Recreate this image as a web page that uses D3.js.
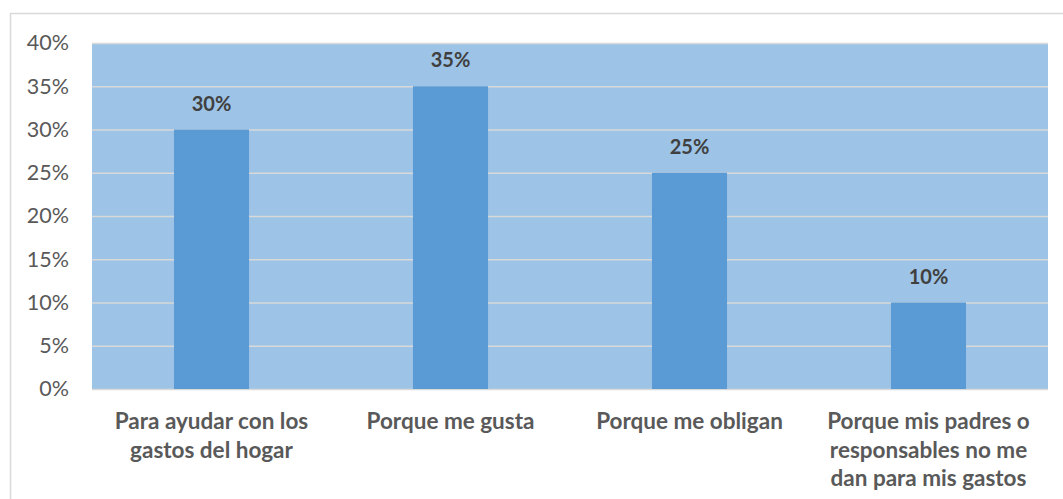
<!DOCTYPE html>
<html><head><meta charset="utf-8">
<script src="https://cdn.jsdelivr.net/npm/d3@7"></script>
<style>body{margin:0;background:#fff;}svg{display:block;}</style>
</head><body>
<svg id="chart" width="1063" height="499"></svg>
<script>
const categories = [
  ["Para ayudar con los", "gastos del hogar"],
  ["Porque me gusta"],
  ["Porque me obligan"],
  ["Porque mis padres o", "responsables no me", "dan para mis gastos"]
];
const values = [0.30, 0.35, 0.25, 0.10];
const yTicks = [0, 0.05, 0.10, 0.15, 0.20, 0.25, 0.30, 0.35, 0.40];

(function () {
const svg = d3.select("#chart");
const font = "Lato, 'Open Sans', sans-serif";
const pLeft = 92, pRight = 1048, pTop = 43, pBottom = 389;

svg.append("rect").attr("x", 10.5).attr("y", 13.5).attr("width", 1060).attr("height", 500)
  .attr("fill", "#fff").attr("stroke", "#d9d9d9").attr("stroke-width", 1.5);

const x = d3.scaleBand().domain(d3.range(categories.length)).range([pLeft, pRight]).paddingInner(0.686).paddingOuter(0.343);
const y = d3.scaleLinear().domain([0, 0.40]).range([pBottom, pTop]);

svg.append("rect").attr("x", pLeft).attr("y", pTop).attr("width", pRight - pLeft).attr("height", pBottom - pTop).attr("fill", "#9dc3e6");

const yAxis = d3.axisLeft(y).tickValues(yTicks).tickFormat(d3.format(".0%")).tickSize(-(pRight - pLeft)).tickPadding(23);
const ga = svg.append("g").attr("transform", `translate(${pLeft},0)`).call(yAxis);
ga.select(".domain").remove();
ga.selectAll(".tick line").attr("stroke", "#d9d9d9").attr("stroke-width", 1.5);
ga.selectAll(".tick text").attr("fill", "#595959").style("font-family", font).style("font-size", "21.5px");

svg.selectAll("rect.bar").data(values).enter().append("rect").attr("class", "bar")
  .attr("x", (d, i) => x(i)).attr("width", x.bandwidth())
  .attr("y", d => y(d)).attr("height", d => y(0) - y(d)).attr("fill", "#5b9bd5");

svg.selectAll("text.lbl").data(values).enter().append("text").attr("class", "lbl")
  .attr("x", (d, i) => x(i) + x.bandwidth() / 2).attr("y", d => y(d) - 19)
  .attr("text-anchor", "middle").attr("fill", "#404040").style("font-family", font)
  .style("font-size", "20px").style("font-weight", "bold").text(d => d3.format(".0%")(d));

const xc = d3.scaleBand().domain(d3.range(categories.length)).range([pLeft, pRight]);
categories.forEach((lines, i) => {
  const t = svg.append("text").attr("text-anchor", "middle").attr("fill", "#595959")
    .style("font-family", font).style("font-size", "22.5px").style("font-weight", "bold");
  lines.forEach((ln, j) => {
    t.append("tspan").attr("x", xc(i) + xc.bandwidth() / 2).attr("y", 429 + j * 28.5).text(ln);
  });
});
})();
</script>
</body></html>
